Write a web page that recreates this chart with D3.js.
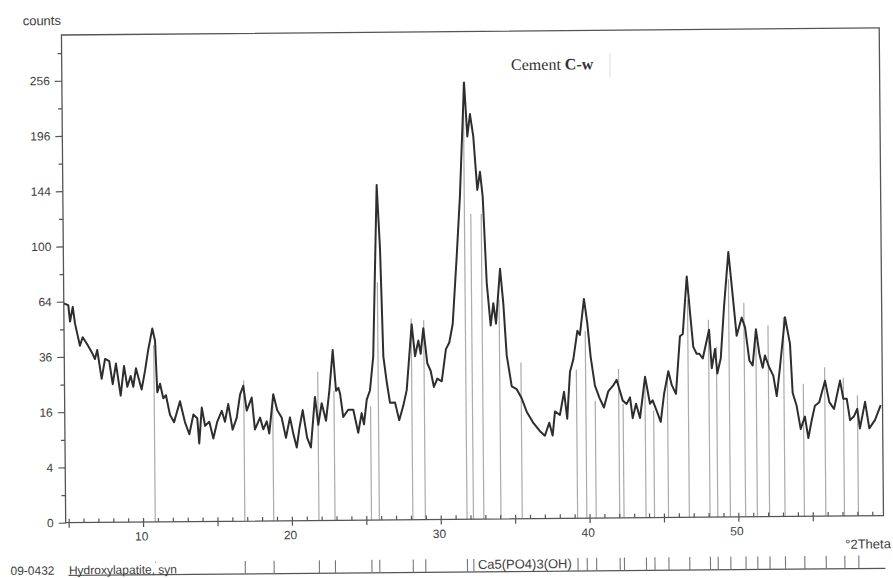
<!DOCTYPE html>
<meta charset="utf-8">
<style>
body { margin: 0; background: #fff; }
text { font-family: "Liberation Sans", Arial, sans-serif; fill: #3c3c3c; }
.axis path { display: none; }
.axis line { stroke: #555; stroke-width: 1.2; }
</style>
<svg id="xrd" width="893" height="578"></svg>
<script src="https://d3js.org/d3.v7.min.js"></script>
<script>

var twoTheta = [4.8,5.10,5.21,5.40,5.54,5.86,6.05,6.32,6.65,6.86,
  7.02,7.30,7.54,7.82,8.04,8.27,8.57,8.81,9.02,9.25,
  9.42,9.61,9.98,10.22,10.45,10.73,10.91,11.03,11.22,11.43,
  11.61,11.87,12.14,12.55,12.87,13.16,13.44,13.70,13.82,14.01,
  14.22,14.51,14.77,15.04,15.35,15.56,15.79,16.07,16.35,16.59,
  16.81,17.03,17.37,17.57,17.92,18.13,18.37,18.53,18.82,19.08,
  19.37,19.65,19.93,20.14,20.37,20.55,20.79,21.07,21.32,21.62,
  21.83,22.07,22.35,22.59,22.84,23.04,23.20,23.31,23.51,23.85,
  24.19,24.51,24.75,24.90,25.10,25.32,25.56,25.89,26.08,26.24,
  26.45,26.66,27.00,27.27,27.55,27.79,28.16,28.37,28.60,28.75,
  28.94,29.19,29.41,29.62,29.85,30.15,30.45,30.68,30.92,31.23,
  31.48,31.82,32.01,32.20,32.41,32.65,32.84,33.01,33.23,33.47,
  33.66,33.83,34.13,34.33,34.53,34.85,35.18,35.51,35.84,36.28,
  36.72,37.05,37.35,37.57,37.74,38.07,38.36,38.56,38.77,39.00,
  39.29,39.46,39.75,39.96,40.17,40.44,40.73,41.03,41.33,41.67,
  41.90,42.30,42.56,42.79,42.96,43.19,43.45,43.81,44.13,44.31,
  44.57,44.84,45.08,45.38,45.60,45.88,46.18,46.37,46.67,46.87,
  47.07,47.29,47.47,47.70,47.98,48.14,48.30,48.53,48.67,48.91,
  49.16,49.48,49.75,49.99,50.34,50.56,50.83,51.05,51.29,51.50,
  51.72,51.88,52.17,52.43,52.65,52.88,53.25,53.57,53.72,53.98,
  54.24,54.53,54.75,54.98,55.21,55.50,55.90,56.18,56.49,56.91,
  57.12,57.35,57.56,57.83,58.05,58.22,58.58,58.85,59.24,59.63];

var counts = [63,62,53,61,52,41,45,42,38,35,
  39,27,35,34,25,33,21,32,24,28,
  24,31,23,30,39,49,43,22,25,20,
  21,15,13,19,13,10,15,14,8,17,
  12,13,9,13,16,13,18,11,14,21,
  24,16,20,11,14,11,13,10,21,16,
  14,9,14,10,7,11,16,9,7,20,
  12,18,13,22,38,22,23,21,14,16,
  16,10,15,12,19,22,35,147,96,35,
  25,18,18,13,17,22,50,35,42,36,
  48,32,29,23,26,25,38,41,50,91,
  137,250,192,215,192,142,158,136,73,49,
  61,50,82,61,35,23,22,19,15,12,
  10,9,12,9,15,14,21,13,28,33,
  46,44,63,50,34,23,19,16,21,23,
  25,18,17,19,13,17,13,26,17,18,
  15,12,20,28,23,20,43,44,76,55,
  38,35,35,33,41,46,29,37,27,33,
  58,92,64,43,52,47,32,30,46,35,
  29,34,29,26,19,29,52,39,20,16,
  10,13,8,12,16,17,24,17,15,24,
  18,18,12,13,15,10,17,10,12,16];

// reference lines of 09-0432 hydroxylapatite, and how high they are drawn
var refPos = [10.82,16.84,18.78,21.82,22.90,25.35,25.88,28.13,28.97,31.77,
  32.20,32.90,34.05,35.48,39.20,39.82,40.45,42.03,42.32,43.80,
  44.37,45.31,46.71,48.10,48.62,49.47,50.49,51.28,52.10,53.14,
  54.44,55.88,57.13,58.07];
var refCounts = [41,26,21,29,22,17,74,53,52,250,
  122,122,63,32,29,46,18,29,17,26,
  15,27,62,51,38,74,60,46,48,52,
  23,29,25,19];

var yTicks = [0,4,16,36,64,100,144,196,256];
var yMinor = [1,9,25,49,81,121,169,225,289];
var xMinor = d3.range(5, 60);
var xMajor = d3.range(5, 60, 5);

var svg = d3.select("svg");

// the scanned figure is turned by about half a degree
var chart = svg.append("g").attr("transform", "rotate(-0.5,65,523)");

var x = d3.scaleLinear().domain([4.8, 59.75]).range([65.7, 883.5]);
var y = d3.scaleSqrt().domain([0, 311.7]).range([522.7, 35]);

chart.append("clipPath").attr("id", "plotclip")
  .append("rect")
  .attr("x", x.range()[0]).attr("y", y.range()[1])
  .attr("width", x.range()[1] - x.range()[0])
  .attr("height", y.range()[0] - y.range()[1]);

// reference sticks behind the pattern
chart.selectAll(".stick")
  .data(d3.zip(refPos, refCounts))
  .enter().append("line")
  .attr("class", "stick")
  .attr("x1", d => x(d[0])).attr("x2", d => x(d[0]))
  .attr("y1", y(0)).attr("y2", d => y(d[1]))
  .attr("stroke", "#ababab").attr("stroke-width", 1.2);

// the pattern
var line = d3.line()
  .x(d => x(d[0]))
  .y(d => y(d[1]));

chart.append("path")
  .datum(d3.zip(twoTheta, counts))
  .attr("clip-path", "url(#plotclip)")
  .attr("d", line)
  .attr("fill", "none")
  .attr("stroke", "#2e2e2e")
  .attr("stroke-width", 2)
  .attr("stroke-linejoin", "round");

// frame
chart.append("rect")
  .attr("x", x.range()[0]).attr("y", y.range()[1])
  .attr("width", x.range()[1] - x.range()[0])
  .attr("height", y.range()[0] - y.range()[1])
  .attr("fill", "none").attr("stroke", "#555").attr("stroke-width", 1.3);

// y axis: squares labelled, odd squares as small ticks
chart.append("g").attr("class", "axis")
  .attr("transform", "translate(" + x.range()[0] + ",0)")
  .call(d3.axisLeft(y).tickValues(yTicks).tickSize(7).tickPadding(5))
  .selectAll("text").style("font-size", "12px");

chart.append("g").attr("class", "axis")
  .attr("transform", "translate(" + x.range()[0] + ",0)")
  .call(d3.axisLeft(y).tickValues(yMinor).tickSize(4).tickFormat(""));

// x axis: every degree inside, every five outside, labels at tens
chart.append("g").attr("class", "axis")
  .attr("transform", "translate(0," + y(0) + ")")
  .call(d3.axisBottom(x).tickValues(xMinor).tickSize(-4).tickFormat(""));

chart.append("g").attr("class", "axis")
  .attr("transform", "translate(0," + y(0) + ")")
  .call(d3.axisBottom(x).tickValues(xMajor).tickSize(5).tickPadding(5)
        .tickFormat(d => d % 10 === 0 ? d : ""))
  .selectAll("text").style("font-size", "12px").attr("dx", -2);

chart.append("text")
  .attr("x", 27).attr("y", 25)
  .style("font-size", "13px")
  .text("counts");

chart.append("text")
  .attr("x", 845).attr("y", 555.5)
  .style("font-size", "13px")
  .text("°2Theta");

// sample label
var label = chart.append("text")
  .attr("x", 515).attr("y", 74)
  .style("font-family", "'Liberation Serif', 'Times New Roman', serif")
  .style("font-size", "16px").style("fill", "#333");
label.append("tspan").text("Cement ");
label.append("tspan").style("font-weight", "bold").text("C-w");

chart.append("line")
  .attr("x1", 614).attr("x2", 614).attr("y1", 58).attr("y2", 82)
  .attr("stroke", "#ddd").attr("stroke-width", 1);

// phase strip under the plot
var stripY = 575.5;
chart.append("line")
  .attr("x1", 68).attr("x2", 885).attr("y1", stripY).attr("y2", stripY)
  .attr("stroke", "#555").attr("stroke-width", 1.2);

chart.selectAll(".ref")
  .data(refPos)
  .enter().append("line")
  .attr("class", "ref")
  .attr("x1", d => x(d)).attr("x2", d => x(d))
  .attr("y1", stripY - 13).attr("y2", stripY)
  .attr("stroke", "#777").attr("stroke-width", 1.1);

chart.append("text")
  .attr("x", 10).attr("y", stripY - 1)
  .style("font-size", "12px")
  .text("09-0432");

chart.append("rect")
  .attr("x", 68).attr("y", stripY - 12).attr("width", 116).attr("height", 11)
  .attr("fill", "#fff");
chart.append("text")
  .attr("x", 68.5).attr("y", stripY - 1)
  .style("font-size", "12px")
  .text("Hydroxylapatite, syn");

chart.append("rect")
  .attr("x", 476).attr("y", stripY - 16).attr("width", 99).attr("height", 15)
  .attr("fill", "#fff");
chart.append("text")
  .attr("x", 477.5).attr("y", stripY - 3)
  .style("font-size", "13px")
  .text("Ca5(PO4)3(OH)");

</script>
